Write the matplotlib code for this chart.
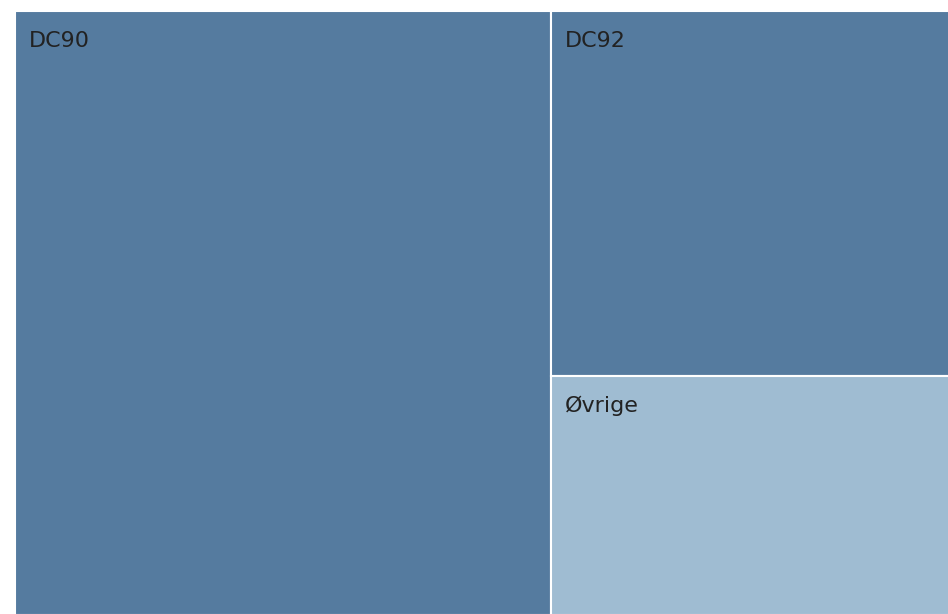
import matplotlib.pyplot as plt
from matplotlib.patches import Rectangle

labels = ['DC90', 'DC92', 'Øvrige']
values = [57.3, 25.8, 16.9]
colors = ['#557b9f', '#557b9f', '#9fbcd2']

fig = plt.figure(figsize=(9.48, 6.14), dpi=100)
# axes runs 1px past the right and bottom edge so the outer border is cut off
ax = fig.add_axes([15 / 948, -1 / 614, 935 / 948, 604 / 614])
ax.set_xlim(0, 1)
ax.set_ylim(0, 1)
ax.axis('off')

total = sum(values)
# first item fills the left column, the rest are stacked on the right
w0 = values[0] / total
rects = [(0, 0, w0, 1)]
rest = sum(values[1:])
top = 1.0
for v in values[1:]:
    h = v / rest
    rects.append((w0, top - h, 1 - w0, h))
    top -= h

for (x, y, w, h), lab, col in zip(rects, labels, colors):
    ax.add_patch(Rectangle((x, y), w, h, facecolor=col, edgecolor='white', lw=1.5))
    ax.annotate(lab, (x, y + h), xytext=(14, -20), textcoords='offset pixels',
                ha='left', va='top', fontsize=16, color='#222222')

fig.savefig('out.png')
